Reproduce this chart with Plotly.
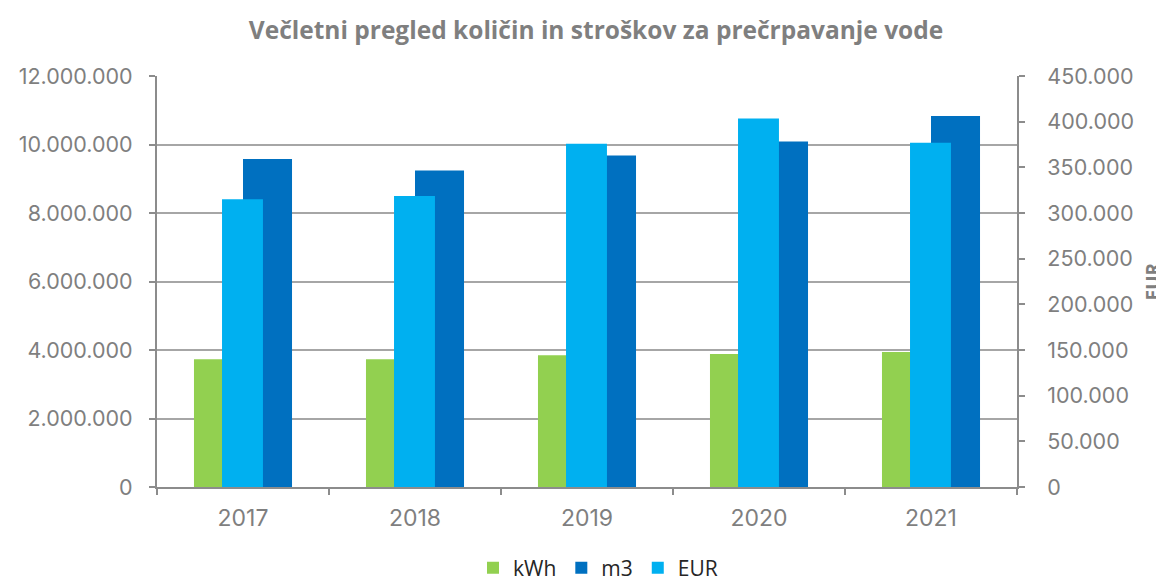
import plotly.graph_objects as go

years = ["2017", "2018", "2019", "2020", "2021"]
kwh = [3730000, 3730000, 3850000, 3880000, 3940000]
m3 = [9580000, 9240000, 9680000, 10090000, 10830000]
eur = [315100, 318700, 375800, 403500, 376800]

title_text = "Večletni pregled količin in stroškov za prečrpavanje vode"
left_ticks = [0, 2000000, 4000000, 6000000, 8000000, 10000000, 12000000]
right_ticks = [0, 50000, 100000, 150000, 200000, 250000, 300000, 350000, 400000, 450000]

GRAY = "#7f7f7f"
AX = "#8c8c8c"
FONT = "Open Sans"
TFONT = "Inter"
TS = 21.5

# the page body adds an 8px offset; figure coordinates = screen - 8
W, H = 1156, 574
L, R, T, B = 149, 1156 - 1009, 68, 574 - 479
PW, PH = W - L - R, H - T - B

fig = go.Figure()
fig.add_trace(go.Bar(x=years, y=kwh, name="kWh", marker=dict(color="#92D050", line=dict(width=0)),
                     width=0.285, offset=-0.285, yaxis="y"))
fig.add_trace(go.Bar(x=years, y=m3, name="m3", marker=dict(color="#0070C0", line=dict(width=0)),
                     width=0.285, offset=0.0, yaxis="y"))
fig.add_trace(go.Bar(x=years, y=eur, name="EUR", marker=dict(color="#00B0F0", line=dict(width=0)),
                     width=0.238, offset=-0.122, yaxis="y2"))

fig.update_layout(
    width=W, height=H,
    margin=dict(l=L, r=R, t=T, b=B, autoexpand=False),
    paper_bgcolor="white", plot_bgcolor="white",
    barmode="overlay",
    separators=",.",
    font=dict(family=FONT, color=GRAY, size=20),
    title=dict(text="<b>" + title_text + "</b>", x=(596 - 8) / W, xanchor="center",
               y=1 - (30 - 8) / H, yanchor="middle",
               font=dict(family=FONT, size=24.5, color=GRAY)),
    xaxis=dict(type="category", range=[-0.5, 4.5], showline=True, linecolor=AX, linewidth=2,
               ticks="outside", tickson="boundaries", ticklen=6, tickcolor=AX, tickwidth=2,
               tickfont=dict(family=TFONT, size=23, color=GRAY), showgrid=False, ticklabelstandoff=9),
    yaxis=dict(range=[0, 12000000], tickvals=left_ticks, tickformat=",d", showline=True, linecolor=AX,
               linewidth=2, ticks="outside", ticklen=6, tickcolor=AX, tickwidth=2,
               showgrid=True, gridcolor="#a6a6a6", gridwidth=2, zeroline=False,
               tickfont=dict(family=TFONT, size=TS, color=GRAY), ticklabelstandoff=12),
    yaxis2=dict(range=[0, 450000], tickvals=right_ticks, tickformat=",d", overlaying="y", side="right",
                showline=True, linecolor=AX, linewidth=2, ticks="outside", ticklen=6, tickcolor=AX,
                tickwidth=2, showgrid=False, zeroline=False,
                tickfont=dict(family=TFONT, size=TS, color=GRAY), ticklabelstandoff=18),
    legend=dict(orientation="h", x=(598 - 8 - L) / PW, xanchor="center",
                y=-(568 - 8 - (T + PH)) / PH, yanchor="middle",
                font=dict(family=FONT, size=21, color="#262626"), itemsizing="constant",
                traceorder="normal", itemwidth=30),
    showlegend=True,
)
fig.add_annotation(text="<b>EUR</b>", xref="paper", yref="paper", x=(1152 - 8 - L) / PW, y=0.5,
                   xanchor="center", yanchor="middle", textangle=-90, showarrow=False,
                   font=dict(family=FONT, size=19, color=GRAY))

fig.write_html("out.html")
